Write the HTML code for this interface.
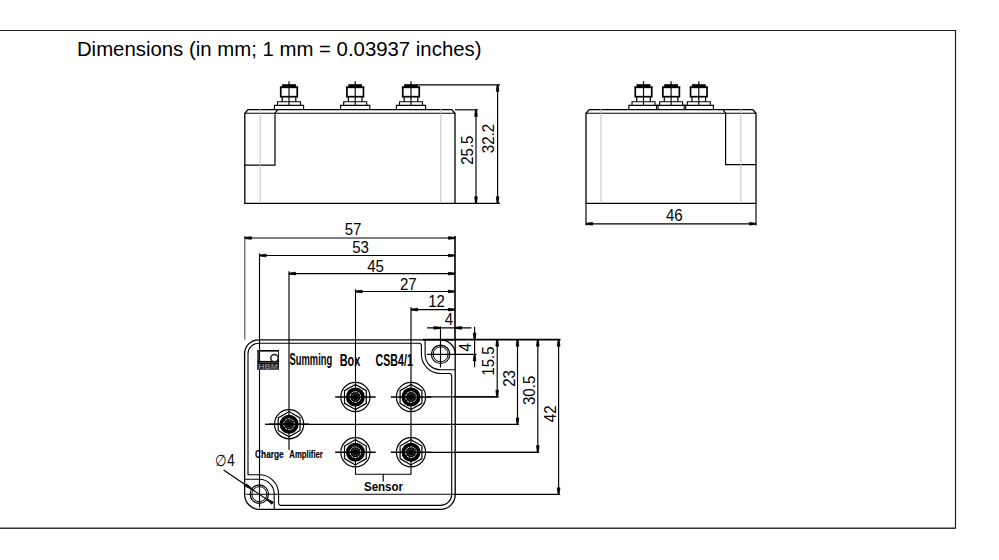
<!DOCTYPE html>
<html><head><meta charset="utf-8"><style>
html,body{margin:0;padding:0;background:#fff;}
svg{display:block;font-family:"Liberation Sans",sans-serif;}
</style></head><body>
<svg width="999" height="560" viewBox="0 0 999 560">
<rect width="999" height="560" fill="#fff"/>
<line x1="0" y1="30.5" x2="955.5" y2="30.5" stroke="#222" stroke-width="1.1"/>
<line x1="955.5" y1="30" x2="955.5" y2="528.5" stroke="#222" stroke-width="1.2"/>
<line x1="0" y1="528.2" x2="956" y2="528.2" stroke="#333" stroke-width="1.4"/>
<text x="0" y="0" font-size="21.0" text-anchor="start" transform="translate(76.9,55.8) scale(1.0,1)" textLength="404.6" lengthAdjust="spacingAndGlyphs">Dimensions (in mm; 1 mm = 0.03937 inches)</text>
<path d="M274.4,109.6 V105.4 H303.6 V109.6" stroke="#000" stroke-width="1.1" fill="none"/>
<path d="M277.5,105.4 V101.7 H300.5 V105.4" stroke="#000" stroke-width="1.1" fill="none"/>
<line x1="282.2" y1="96.9" x2="282.2" y2="101.7" stroke="#000" stroke-width="1.2"/>
<line x1="295.8" y1="96.9" x2="295.8" y2="101.7" stroke="#000" stroke-width="1.2"/>
<rect x="280.75" y="87.3" width="16.5" height="9.4" fill="none" stroke="#000" stroke-width="1.7"/>
<rect x="282.1" y="84.2" width="13.8" height="3.0" fill="#000"/>
<rect x="279.9" y="86.4" width="1.4" height="1.0" fill="#000"/>
<rect x="296.7" y="86.4" width="1.4" height="1.0" fill="#000"/>
<line x1="289.0" y1="81.2" x2="289.0" y2="106" stroke="#000" stroke-width="1.15"/>
<path d="M340.59999999999997,109.6 V105.4 H369.8 V109.6" stroke="#000" stroke-width="1.1" fill="none"/>
<path d="M343.7,105.4 V101.7 H366.7 V105.4" stroke="#000" stroke-width="1.1" fill="none"/>
<line x1="348.4" y1="96.9" x2="348.4" y2="101.7" stroke="#000" stroke-width="1.2"/>
<line x1="362.0" y1="96.9" x2="362.0" y2="101.7" stroke="#000" stroke-width="1.2"/>
<rect x="346.95" y="87.3" width="16.5" height="9.4" fill="none" stroke="#000" stroke-width="1.7"/>
<rect x="348.3" y="84.2" width="13.8" height="3.0" fill="#000"/>
<rect x="346.09999999999997" y="86.4" width="1.4" height="1.0" fill="#000"/>
<rect x="362.9" y="86.4" width="1.4" height="1.0" fill="#000"/>
<line x1="355.2" y1="81.2" x2="355.2" y2="106" stroke="#000" stroke-width="1.15"/>
<path d="M396.4,109.6 V105.4 H425.6 V109.6" stroke="#000" stroke-width="1.1" fill="none"/>
<path d="M399.5,105.4 V101.7 H422.5 V105.4" stroke="#000" stroke-width="1.1" fill="none"/>
<line x1="404.2" y1="96.9" x2="404.2" y2="101.7" stroke="#000" stroke-width="1.2"/>
<line x1="417.8" y1="96.9" x2="417.8" y2="101.7" stroke="#000" stroke-width="1.2"/>
<rect x="402.75" y="87.3" width="16.5" height="9.4" fill="none" stroke="#000" stroke-width="1.7"/>
<rect x="404.1" y="84.2" width="13.8" height="3.0" fill="#000"/>
<rect x="401.9" y="86.4" width="1.4" height="1.0" fill="#000"/>
<rect x="418.7" y="86.4" width="1.4" height="1.0" fill="#000"/>
<line x1="411.0" y1="81.2" x2="411.0" y2="106" stroke="#000" stroke-width="1.15"/>
<path d="M244.8,203.3 V113.2 L248.0,109.6 H451.8 L455.0,113.2 V203.3 Z" stroke="#000" stroke-width="1.3" fill="none"/>
<line x1="248.0" y1="113.2" x2="451.8" y2="113.2" stroke="#000" stroke-width="1.1"/>
<line x1="244.8" y1="113.2" x2="248.0" y2="113.2" stroke="#000" stroke-width="1.1"/>
<line x1="451.8" y1="113.2" x2="455.0" y2="113.2" stroke="#000" stroke-width="1.1"/>
<path d="M244.8,165.1 H275.0 V113.2 L277.8,109.6" stroke="#000" stroke-width="1.2" fill="none"/>
<line x1="260.2" y1="108.5" x2="260.2" y2="203.3" stroke="#bbb" stroke-width="0.9"/>
<line x1="440.8" y1="108.5" x2="440.8" y2="203.3" stroke="#bbb" stroke-width="0.9"/>
<line x1="417.5" y1="84.8" x2="500" y2="84.8" stroke="#000" stroke-width="1.15"/>
<line x1="455" y1="109.8" x2="478" y2="109.8" stroke="#000" stroke-width="1.15"/>
<line x1="455" y1="203.3" x2="500" y2="203.3" stroke="#000" stroke-width="1.15"/>
<line x1="497.6" y1="84.8" x2="497.6" y2="203.3" stroke="#000" stroke-width="1.15"/>
<polygon points="497.05,85.10 496.30,91.40 498.90,91.40 498.15,85.10" fill="#000" stroke="#000" stroke-width="0.8" stroke-linejoin="round"/>
<polygon points="497.05,203.00 496.30,196.70 498.90,196.70 498.15,203.00" fill="#000" stroke="#000" stroke-width="0.8" stroke-linejoin="round"/>
<line x1="476.0" y1="109.8" x2="476.0" y2="203.3" stroke="#000" stroke-width="1.15"/>
<polygon points="475.45,110.10 474.70,116.40 477.30,116.40 476.55,110.10" fill="#000" stroke="#000" stroke-width="0.8" stroke-linejoin="round"/>
<polygon points="475.45,203.00 474.70,196.70 477.30,196.70 476.55,203.00" fill="#000" stroke="#000" stroke-width="0.8" stroke-linejoin="round"/>
<text x="0" y="0" font-size="16.1" text-anchor="middle" transform="translate(473.2,150.2) rotate(-90) scale(0.935,1)" >25.5</text>
<text x="0" y="0" font-size="16.1" text-anchor="middle" transform="translate(494.0,138.5) rotate(-90) scale(0.935,1)" >32.2</text>
<path d="M628.9,109.6 V105.4 H658.1 V109.6" stroke="#000" stroke-width="1.1" fill="none"/>
<path d="M632.0,105.4 V101.7 H655.0 V105.4" stroke="#000" stroke-width="1.1" fill="none"/>
<line x1="636.7" y1="96.9" x2="636.7" y2="101.7" stroke="#000" stroke-width="1.2"/>
<line x1="650.3" y1="96.9" x2="650.3" y2="101.7" stroke="#000" stroke-width="1.2"/>
<rect x="635.25" y="87.3" width="16.5" height="9.4" fill="none" stroke="#000" stroke-width="1.7"/>
<rect x="636.6" y="84.2" width="13.8" height="3.0" fill="#000"/>
<rect x="634.4" y="86.4" width="1.4" height="1.0" fill="#000"/>
<rect x="651.2" y="86.4" width="1.4" height="1.0" fill="#000"/>
<line x1="643.5" y1="81.2" x2="643.5" y2="106" stroke="#000" stroke-width="1.15"/>
<path d="M656.5,109.6 V105.4 H685.7 V109.6" stroke="#000" stroke-width="1.1" fill="none"/>
<path d="M659.6,105.4 V101.7 H682.6 V105.4" stroke="#000" stroke-width="1.1" fill="none"/>
<line x1="664.3000000000001" y1="96.9" x2="664.3000000000001" y2="101.7" stroke="#000" stroke-width="1.2"/>
<line x1="677.9" y1="96.9" x2="677.9" y2="101.7" stroke="#000" stroke-width="1.2"/>
<rect x="662.85" y="87.3" width="16.5" height="9.4" fill="none" stroke="#000" stroke-width="1.7"/>
<rect x="664.2" y="84.2" width="13.8" height="3.0" fill="#000"/>
<rect x="662.0" y="86.4" width="1.4" height="1.0" fill="#000"/>
<rect x="678.8000000000001" y="86.4" width="1.4" height="1.0" fill="#000"/>
<line x1="671.1" y1="81.2" x2="671.1" y2="106" stroke="#000" stroke-width="1.15"/>
<path d="M684.1999999999999,109.6 V105.4 H713.4 V109.6" stroke="#000" stroke-width="1.1" fill="none"/>
<path d="M687.3,105.4 V101.7 H710.3 V105.4" stroke="#000" stroke-width="1.1" fill="none"/>
<line x1="692.0" y1="96.9" x2="692.0" y2="101.7" stroke="#000" stroke-width="1.2"/>
<line x1="705.5999999999999" y1="96.9" x2="705.5999999999999" y2="101.7" stroke="#000" stroke-width="1.2"/>
<rect x="690.55" y="87.3" width="16.5" height="9.4" fill="none" stroke="#000" stroke-width="1.7"/>
<rect x="691.9" y="84.2" width="13.8" height="3.0" fill="#000"/>
<rect x="689.6999999999999" y="86.4" width="1.4" height="1.0" fill="#000"/>
<rect x="706.5" y="86.4" width="1.4" height="1.0" fill="#000"/>
<line x1="698.8" y1="81.2" x2="698.8" y2="106" stroke="#000" stroke-width="1.15"/>
<path d="M586.0,203.3 V113.2 L589.2,109.6 H752.8 L756.0,113.2 V203.3 Z" stroke="#000" stroke-width="1.3" fill="none"/>
<line x1="589.2" y1="113.2" x2="752.8" y2="113.2" stroke="#000" stroke-width="1.1"/>
<path d="M756.0,164.6 H725.6 V113.2 L723.0,109.6" stroke="#000" stroke-width="1.2" fill="none"/>
<line x1="600.9" y1="108.5" x2="600.9" y2="203.3" stroke="#bbb" stroke-width="0.9"/>
<line x1="740.8" y1="108.5" x2="740.8" y2="203.3" stroke="#bbb" stroke-width="0.9"/>
<line x1="752.8" y1="113.2" x2="756.0" y2="113.2" stroke="#000" stroke-width="1.1"/>
<line x1="586.0" y1="113.2" x2="589.2" y2="113.2" stroke="#000" stroke-width="1.1"/>
<line x1="586.0" y1="203.3" x2="586.0" y2="225.5" stroke="#000" stroke-width="1.15"/>
<line x1="756.0" y1="203.3" x2="756.0" y2="225.5" stroke="#000" stroke-width="1.15"/>
<line x1="586.0" y1="223.8" x2="756.0" y2="223.8" stroke="#000" stroke-width="1.15"/>
<polygon points="586.30,223.25 592.60,222.50 592.60,225.10 586.30,224.35" fill="#000" stroke="#000" stroke-width="0.8" stroke-linejoin="round"/>
<polygon points="755.70,223.25 749.40,222.50 749.40,225.10 755.70,224.35" fill="#000" stroke="#000" stroke-width="0.8" stroke-linejoin="round"/>
<text x="0" y="0" font-size="16.1" text-anchor="middle" transform="translate(674.3,220.8) scale(0.935,1)" >46</text>
<line x1="455.0" y1="236.0" x2="455.0" y2="339.8" stroke="#000" stroke-width="1.6"/>
<line x1="244.8" y1="236.0" x2="244.8" y2="238.5" stroke="#333" stroke-width="1.15"/>
<line x1="244.8" y1="238.0" x2="455.0" y2="238.0" stroke="#000" stroke-width="1.15"/>
<polygon points="245.10,237.45 251.40,236.70 251.40,239.30 245.10,238.55" fill="#000" stroke="#000" stroke-width="0.8" stroke-linejoin="round"/>
<polygon points="454.70,237.45 448.40,236.70 448.40,239.30 454.70,238.55" fill="#000" stroke="#000" stroke-width="0.8" stroke-linejoin="round"/>
<text x="0" y="0" font-size="16.1" text-anchor="middle" transform="translate(353.0,234.8) scale(0.935,1)" >57</text>
<line x1="259.5" y1="253.4" x2="259.5" y2="256.0" stroke="#000" stroke-width="1.15"/>
<line x1="259.5" y1="255.5" x2="455.0" y2="255.5" stroke="#000" stroke-width="1.15"/>
<polygon points="259.80,254.95 266.10,254.20 266.10,256.80 259.80,256.05" fill="#000" stroke="#000" stroke-width="0.8" stroke-linejoin="round"/>
<polygon points="454.70,254.95 448.40,254.20 448.40,256.80 454.70,256.05" fill="#000" stroke="#000" stroke-width="0.8" stroke-linejoin="round"/>
<text x="0" y="0" font-size="16.1" text-anchor="middle" transform="translate(360.5,252.8) scale(0.935,1)" >53</text>
<line x1="289.0" y1="271.3" x2="289.0" y2="274.1" stroke="#000" stroke-width="1.15"/>
<line x1="289.0" y1="273.6" x2="455.0" y2="273.6" stroke="#000" stroke-width="1.15"/>
<polygon points="289.30,273.05 295.60,272.30 295.60,274.90 289.30,274.15" fill="#000" stroke="#000" stroke-width="0.8" stroke-linejoin="round"/>
<polygon points="454.70,273.05 448.40,272.30 448.40,274.90 454.70,274.15" fill="#000" stroke="#000" stroke-width="0.8" stroke-linejoin="round"/>
<text x="0" y="0" font-size="16.1" text-anchor="middle" transform="translate(375.5,271.5) scale(0.935,1)" >45</text>
<line x1="355.5" y1="289.3" x2="355.5" y2="292.0" stroke="#000" stroke-width="1.15"/>
<line x1="355.5" y1="291.5" x2="455.0" y2="291.5" stroke="#000" stroke-width="1.15"/>
<polygon points="355.80,290.95 362.10,290.20 362.10,292.80 355.80,292.05" fill="#000" stroke="#000" stroke-width="0.8" stroke-linejoin="round"/>
<polygon points="454.70,290.95 448.40,290.20 448.40,292.80 454.70,292.05" fill="#000" stroke="#000" stroke-width="0.8" stroke-linejoin="round"/>
<text x="0" y="0" font-size="16.1" text-anchor="middle" transform="translate(408.3,289.6) scale(0.935,1)" >27</text>
<line x1="411.0" y1="307.0" x2="411.0" y2="310.1" stroke="#000" stroke-width="1.15"/>
<line x1="411.0" y1="309.6" x2="455.0" y2="309.6" stroke="#000" stroke-width="1.15"/>
<polygon points="411.30,309.05 417.60,308.30 417.60,310.90 411.30,310.15" fill="#000" stroke="#000" stroke-width="0.8" stroke-linejoin="round"/>
<polygon points="454.70,309.05 448.40,308.30 448.40,310.90 454.70,310.15" fill="#000" stroke="#000" stroke-width="0.8" stroke-linejoin="round"/>
<text x="0" y="0" font-size="16.1" text-anchor="middle" transform="translate(436.5,306.9) scale(0.935,1)" >12</text>
<line x1="244.8" y1="238.0" x2="244.8" y2="339.8" stroke="#555" stroke-width="1.15"/>
<line x1="259.5" y1="255.5" x2="259.5" y2="507.5" stroke="#000" stroke-width="1.15"/>
<line x1="289.0" y1="273.6" x2="289.0" y2="449.8" stroke="#000" stroke-width="1.15"/>
<line x1="355.5" y1="291.5" x2="355.5" y2="466.5" stroke="#000" stroke-width="1.1"/>
<line x1="411.0" y1="309.6" x2="411.0" y2="466.5" stroke="#000" stroke-width="1.15"/>
<line x1="427.1" y1="327.9" x2="471.4" y2="327.9" stroke="#000" stroke-width="1.15"/>
<polygon points="440.20,327.35 433.90,326.60 433.90,329.20 440.20,328.45" fill="#000" stroke="#000" stroke-width="0.8" stroke-linejoin="round"/>
<polygon points="455.30,327.35 461.60,326.60 461.60,329.20 455.30,328.45" fill="#000" stroke="#000" stroke-width="0.8" stroke-linejoin="round"/>
<line x1="440.5" y1="326.4" x2="440.5" y2="367.5" stroke="#000" stroke-width="1.15"/>
<text x="0" y="0" font-size="16.1" text-anchor="middle" transform="translate(449.0,324.7) scale(0.935,1)" >4</text>
<line x1="422.9" y1="339.6" x2="560.5" y2="339.6" stroke="#000" stroke-width="1.7"/>
<line x1="426.8" y1="354.3" x2="476.5" y2="354.3" stroke="#000" stroke-width="1.15"/>
<line x1="474.6" y1="326.8" x2="474.6" y2="367.3" stroke="#000" stroke-width="1.15"/>
<polygon points="474.05,339.30 473.30,333.00 475.90,333.00 475.15,339.30" fill="#000" stroke="#000" stroke-width="0.8" stroke-linejoin="round"/>
<polygon points="474.05,354.60 473.30,360.90 475.90,360.90 475.15,354.60" fill="#000" stroke="#000" stroke-width="0.8" stroke-linejoin="round"/>
<text x="0" y="0" font-size="16.1" text-anchor="middle" transform="translate(470.6,347.2) rotate(-90) scale(0.935,1)" >4</text>
<line x1="456" y1="396.8" x2="498.7" y2="396.8" stroke="#000" stroke-width="1.15"/>
<line x1="497.2" y1="339.6" x2="497.2" y2="396.8" stroke="#000" stroke-width="1.15"/>
<polygon points="496.65,339.90 495.90,346.20 498.50,346.20 497.75,339.90" fill="#000" stroke="#000" stroke-width="0.8" stroke-linejoin="round"/>
<polygon points="496.65,396.50 495.90,390.20 498.50,390.20 497.75,396.50" fill="#000" stroke="#000" stroke-width="0.8" stroke-linejoin="round"/>
<text x="0" y="0" font-size="16.1" text-anchor="middle" transform="translate(493.6,361.0) rotate(-90) scale(0.935,1)" >15.5</text>
<line x1="456" y1="424.5" x2="519.0" y2="424.5" stroke="#000" stroke-width="1.15"/>
<line x1="517.5" y1="339.6" x2="517.5" y2="424.5" stroke="#000" stroke-width="1.15"/>
<polygon points="516.95,339.90 516.20,346.20 518.80,346.20 518.05,339.90" fill="#000" stroke="#000" stroke-width="0.8" stroke-linejoin="round"/>
<polygon points="516.95,424.20 516.20,417.90 518.80,417.90 518.05,424.20" fill="#000" stroke="#000" stroke-width="0.8" stroke-linejoin="round"/>
<text x="0" y="0" font-size="16.1" text-anchor="middle" transform="translate(514.6,378.5) rotate(-90) scale(0.935,1)" >23</text>
<line x1="456" y1="452.2" x2="539.3" y2="452.2" stroke="#000" stroke-width="1.15"/>
<line x1="537.8" y1="339.6" x2="537.8" y2="452.2" stroke="#000" stroke-width="1.15"/>
<polygon points="537.25,339.90 536.50,346.20 539.10,346.20 538.35,339.90" fill="#000" stroke="#000" stroke-width="0.8" stroke-linejoin="round"/>
<polygon points="537.25,451.90 536.50,445.60 539.10,445.60 538.35,451.90" fill="#000" stroke="#000" stroke-width="0.8" stroke-linejoin="round"/>
<text x="0" y="0" font-size="16.1" text-anchor="middle" transform="translate(535.0,390.4) rotate(-90) scale(0.935,1)" >30.5</text>
<line x1="456" y1="494.4" x2="560.1" y2="494.4" stroke="#000" stroke-width="1.15"/>
<line x1="558.6" y1="339.6" x2="558.6" y2="494.4" stroke="#000" stroke-width="1.15"/>
<polygon points="558.05,339.90 557.30,346.20 559.90,346.20 559.15,339.90" fill="#000" stroke="#000" stroke-width="0.8" stroke-linejoin="round"/>
<polygon points="558.05,494.10 557.30,487.80 559.90,487.80 559.15,494.10" fill="#000" stroke="#000" stroke-width="0.8" stroke-linejoin="round"/>
<text x="0" y="0" font-size="16.1" text-anchor="middle" transform="translate(555.6,413.8) rotate(-90) scale(0.935,1)" >42</text>
<path d="M244.6,494.1 V353.8 A14 14 0 0 1 258.6,339.8 H455.2 V494.79999999999995 A14.6 14.6 0 0 1 440.59999999999997,509.4 H259.3 A14.9 14.9 0 0 1 244.6,494.1" stroke="#000" stroke-width="1.3" fill="none"/>
<path d="M440.6,339.8 A14.7 14.7 0 0 1 455.3,354.3" stroke="#000" stroke-width="1.2" fill="none"/>
<path d="M425.1,339.8 V354.3 A15.5 15.5 0 0 0 440.6,369.8 H455.2" stroke="#000" stroke-width="1.1" fill="none"/>
<path d="M244.6,479.2 H259.3 A14.9 14.9 0 0 1 274.2,494.1 V509.4" stroke="#000" stroke-width="1.1" fill="none"/>
<path d="M248.0,475.2 V354.0 A10.5 10.5 0 0 1 258.5,343.3 H419.0 A2.5 2.5 0 0 1 421.4,345.8 V354.3 A19.2 19.2 0 0 0 440.6,373.5 H449.2 A2.5 2.5 0 0 1 451.7,376.0 V494.3 A11.1 11.1 0 0 1 440.6,505.4 H281.1 A2.5 2.5 0 0 1 278.6,502.9 V494.1 A19.3 19.3 0 0 0 259.3,474.8 H248.0" stroke="#000" stroke-width="1.1" fill="none"/>
<circle cx="440.6" cy="354.3" r="9.2" stroke="#000" stroke-width="1.2" fill="none" />
<circle cx="440.6" cy="354.3" r="7.5" stroke="#000" stroke-width="1.0" fill="none" />
<circle cx="259.3" cy="494.1" r="9.2" stroke="#000" stroke-width="1.2" fill="none" />
<circle cx="259.3" cy="494.1" r="7.5" stroke="#000" stroke-width="1.0" fill="none" />
<line x1="245.8" y1="494.2" x2="456" y2="494.2" stroke="#000" stroke-width="1.15"/>
<line x1="223.6" y1="470.0" x2="272.1" y2="502.9" stroke="#000" stroke-width="1.15"/>
<polygon points="251.13,489.22 245.25,486.14 246.71,483.99 251.75,488.31" fill="#000" stroke="#000" stroke-width="0.8" stroke-linejoin="round"/>
<polygon points="267.47,498.98 273.35,502.06 271.89,504.21 266.85,499.89" fill="#000" stroke="#000" stroke-width="0.8" stroke-linejoin="round"/>
<text x="0" y="0" font-size="16.1" text-anchor="start" transform="translate(215.2,466.4) scale(0.935,1)" textLength="20.8" lengthAdjust="spacingAndGlyphs">∅4</text>
<circle cx="355.4" cy="397.0" r="14.6" stroke="#000" stroke-width="1.2" fill="none" />
<polygon points="355.40,409.60 344.49,403.30 344.49,390.70 355.40,384.40 366.31,390.70 366.31,403.30" fill="none" stroke="#000" stroke-width="1.2"/>
<circle cx="355.4" cy="397.0" r="9.5" stroke="#000" stroke-width="0" fill="#000" />
<circle cx="355.4" cy="397.0" r="5.4" stroke="#fff" stroke-width="0.9" fill="none" stroke-dasharray="2.6 0.8"/>
<circle cx="355.4" cy="397.0" r="3.3" stroke="#bbb" stroke-width="0.6" fill="none" stroke-dasharray="1.2 1.0"/>
<line x1="335.2" y1="397.0" x2="375.59999999999997" y2="397.0" stroke="#000" stroke-width="1.4"/>
<circle cx="411.0" cy="397.0" r="14.6" stroke="#000" stroke-width="1.2" fill="none" />
<polygon points="411.00,409.60 400.09,403.30 400.09,390.70 411.00,384.40 421.91,390.70 421.91,403.30" fill="none" stroke="#000" stroke-width="1.2"/>
<circle cx="411.0" cy="397.0" r="9.5" stroke="#000" stroke-width="0" fill="#000" />
<circle cx="411.0" cy="397.0" r="5.4" stroke="#fff" stroke-width="0.9" fill="none" stroke-dasharray="2.6 0.8"/>
<circle cx="411.0" cy="397.0" r="3.3" stroke="#bbb" stroke-width="0.6" fill="none" stroke-dasharray="1.2 1.0"/>
<line x1="390.8" y1="397.0" x2="431.2" y2="397.0" stroke="#000" stroke-width="1.4"/>
<circle cx="355.4" cy="452.3" r="14.6" stroke="#000" stroke-width="1.2" fill="none" />
<polygon points="355.40,464.90 344.49,458.60 344.49,446.00 355.40,439.70 366.31,446.00 366.31,458.60" fill="none" stroke="#000" stroke-width="1.2"/>
<circle cx="355.4" cy="452.3" r="9.5" stroke="#000" stroke-width="0" fill="#000" />
<circle cx="355.4" cy="452.3" r="5.4" stroke="#fff" stroke-width="0.9" fill="none" stroke-dasharray="2.6 0.8"/>
<circle cx="355.4" cy="452.3" r="3.3" stroke="#bbb" stroke-width="0.6" fill="none" stroke-dasharray="1.2 1.0"/>
<line x1="335.2" y1="452.3" x2="375.59999999999997" y2="452.3" stroke="#000" stroke-width="1.4"/>
<circle cx="411.0" cy="452.3" r="14.6" stroke="#000" stroke-width="1.2" fill="none" />
<polygon points="411.00,464.90 400.09,458.60 400.09,446.00 411.00,439.70 421.91,446.00 421.91,458.60" fill="none" stroke="#000" stroke-width="1.2"/>
<circle cx="411.0" cy="452.3" r="9.5" stroke="#000" stroke-width="0" fill="#000" />
<circle cx="411.0" cy="452.3" r="5.4" stroke="#fff" stroke-width="0.9" fill="none" stroke-dasharray="2.6 0.8"/>
<circle cx="411.0" cy="452.3" r="3.3" stroke="#bbb" stroke-width="0.6" fill="none" stroke-dasharray="1.2 1.0"/>
<line x1="390.8" y1="452.3" x2="431.2" y2="452.3" stroke="#000" stroke-width="1.4"/>
<circle cx="289.1" cy="424.2" r="14.6" stroke="#000" stroke-width="1.2" fill="none" />
<polygon points="289.10,436.80 278.19,430.50 278.19,417.90 289.10,411.60 300.01,417.90 300.01,430.50" fill="none" stroke="#000" stroke-width="1.2"/>
<circle cx="289.1" cy="424.2" r="9.5" stroke="#000" stroke-width="0" fill="#000" />
<circle cx="289.1" cy="424.2" r="5.4" stroke="#fff" stroke-width="0.9" fill="none" stroke-dasharray="2.6 0.8"/>
<circle cx="289.1" cy="424.2" r="3.3" stroke="#bbb" stroke-width="0.6" fill="none" stroke-dasharray="1.2 1.0"/>
<line x1="268.90000000000003" y1="424.2" x2="309.3" y2="424.2" stroke="#000" stroke-width="1.4"/>
<line x1="265.0" y1="424.3" x2="290" y2="424.3" stroke="#000" stroke-width="1.4"/>
<line x1="426.8" y1="396.8" x2="498" y2="396.8" stroke="#000" stroke-width="1.15"/>
<line x1="290" y1="424.3" x2="518" y2="424.3" stroke="#000" stroke-width="1.2"/>
<line x1="431" y1="452.3" x2="538" y2="452.3" stroke="#000" stroke-width="1.15"/>
<path d="M355.5,466 V474.3 H411.0 V466" stroke="#000" stroke-width="1.1" fill="none"/>
<line x1="383.2" y1="474.3" x2="383.2" y2="481.5" stroke="#000" stroke-width="1.15"/>
<rect x="257.2" y="350.0" width="21.8" height="1.6" fill="#000"/>
<rect x="257.2" y="350.0" width="2.2" height="12.5" fill="#333"/>
<rect x="278.1" y="350.0" width="0.9" height="12.5" fill="#000"/>
<rect x="257.2" y="360.9" width="21.8" height="1.6" fill="#000"/>
<rect x="257.2" y="362.4" width="21.8" height="7.3" fill="#1a1a1a"/>
<circle cx="274.5" cy="358.1" r="3.7" fill="#fff" stroke="#222" stroke-width="1.5"/>
<text x="268.1" y="368.8" font-size="7.6" font-weight="bold" text-anchor="middle" fill="#808080" textLength="19.5" lengthAdjust="spacingAndGlyphs">HBM</text>
<text x="289.6" y="365.3" font-size="16.5" font-weight="bold" textLength="42.6" lengthAdjust="spacingAndGlyphs" stroke="#000" stroke-width="0.0">Summing</text>
<text x="339.7" y="365.5" font-size="16.5" font-weight="bold" textLength="20.6" lengthAdjust="spacingAndGlyphs" stroke="#000" stroke-width="0.0">Box</text>
<text x="375.6" y="365.5" font-size="16.5" font-weight="bold" textLength="37.2" lengthAdjust="spacingAndGlyphs" stroke="#000" stroke-width="0.0">CSB4/1</text>
<text x="255.1" y="458.0" font-size="10.6" font-weight="bold" textLength="28.6" lengthAdjust="spacingAndGlyphs" stroke="#000" stroke-width="0.15">Charge</text>
<text x="289.3" y="458.0" font-size="10.6" font-weight="bold" textLength="33.6" lengthAdjust="spacingAndGlyphs" stroke="#000" stroke-width="0.15">Amplifier</text>
<text x="364.0" y="491.2" font-size="13.4" font-weight="bold" textLength="39.0" lengthAdjust="spacingAndGlyphs" stroke="#000" stroke-width="0.0">Sensor</text>
</svg>
</body></html>
